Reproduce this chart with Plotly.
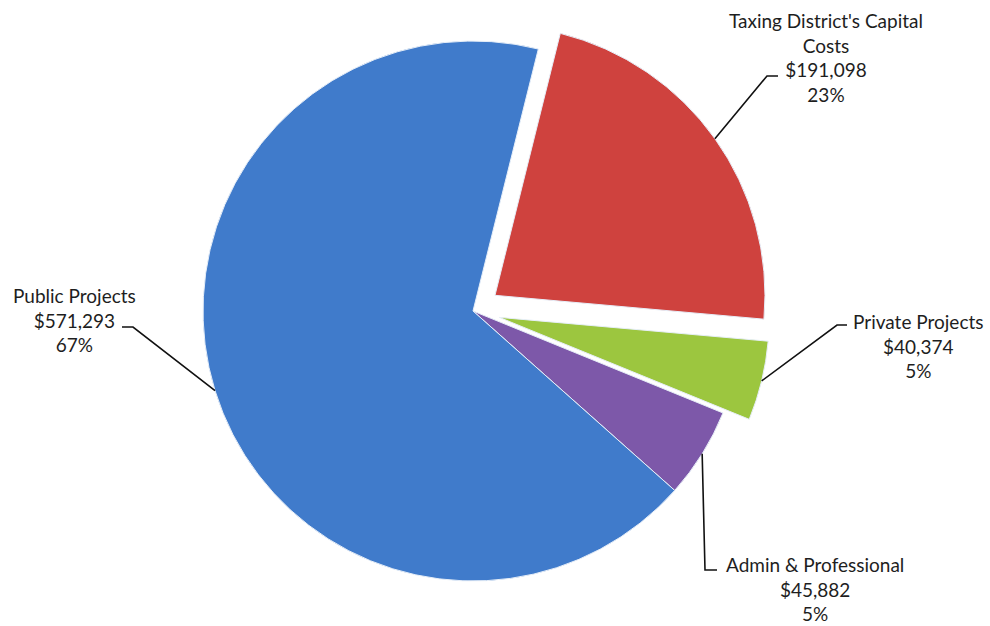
import math
import plotly.graph_objects as go

# Spending by category
categories = ["Taxing District's Capital Costs", "Private Projects",
              "Admin & Professional", "Public Projects"]
label_lines = [["Taxing District's Capital", "Costs"], ["Private Projects"],
               ["Admin & Professional"], ["Public Projects"]]
amounts = [191098, 40374, 45882, 571293]
colors = ["#CF423E", "#9CC63F", "#7D58A9", "#407BCB"]
pulls = [0.1, 0.1, 0.0, 0.0]

W, H = 990, 626
cx_px, cy_px, r_px = 473, 311, 270
rotation = 14

# label placement (pixels): text block centre, elbow point, line end
label_pos = [(826, 57), (918, 346), (815, 589), (74, 320)]
elbows = [((767, 76), (778, 76)), ((837, 325), (847, 325)),
          ((705, 570), (717, 570)), ((133, 327), (122, 327))]
text_anchor = ["center", "center", "center", "center"]

total = sum(amounts)


def px(x):
    return x / W


def py(y):
    return 1 - y / H


# pie domain sized so plotly's radius (box / (2 + 2*maxPull)) equals r_px
max_pull = max(pulls)
half_h = (1 + max_pull) * r_px / H
half_w = (1 + max_pull) * r_px / W + 0.05
dom_x = [px(cx_px) - half_w, px(cx_px) + half_w]
dom_y = [py(cy_px) - half_h, py(cy_px) + half_h]

fig = go.Figure(go.Pie(
    labels=categories,
    values=amounts,
    sort=False,
    direction="clockwise",
    rotation=rotation,
    pull=pulls,
    marker=dict(colors=colors, line=dict(color="#E6EEF8", width=1)),
    textinfo="none",
    hoverinfo="label+value+percent",
    domain=dict(x=dom_x, y=dom_y),
    showlegend=False,
))

shapes = []
annotations = []
cum = 0
for i, v in enumerate(amounts):
    mid = math.radians(rotation + 360 * (cum + v / 2) / total)
    cum += v
    rr = r_px * (1 + pulls[i])
    ex = cx_px + rr * math.sin(mid)
    ey = cy_px - rr * math.cos(mid)
    (bx, by), (tx, ty) = elbows[i]
    shapes.append(dict(
        type="path", xref="paper", yref="paper",
        path=f"M {px(ex)},{py(ey)} L {px(bx)},{py(by)} L {px(tx)},{py(ty)}",
        line=dict(color="#111111", width=1.6),
    ))
    pct = round(v / total * 100)
    text = "<br>".join(label_lines[i] + [f"${v:,}", f"{pct}%"])
    lx, ly = label_pos[i]
    annotations.append(dict(
        x=px(lx), y=py(ly), xref="paper", yref="paper",
        text=text, showarrow=False, align=text_anchor[i],
        xanchor="center", yanchor="middle",
        font=dict(family="Lato, Calibri, sans-serif", size=19, color="#1E1E1E"),
    ))

fig.update_layout(
    width=W, height=H,
    margin=dict(l=0, r=0, t=0, b=0),
    paper_bgcolor="white",
    plot_bgcolor="white",
    shapes=shapes,
    annotations=annotations,
)

fig.write_html("out.html")
